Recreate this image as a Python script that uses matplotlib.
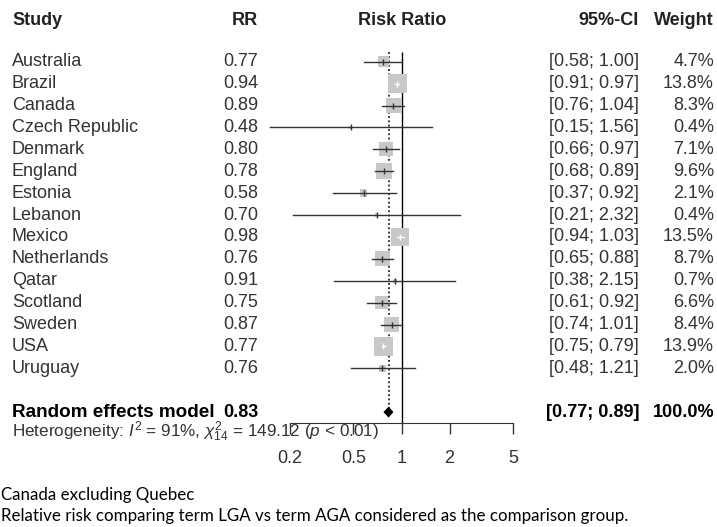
import numpy as np
import matplotlib
matplotlib.use("Agg")
import matplotlib.pyplot as plt
from matplotlib.transforms import blended_transform_factory

# data
studies = ["Australia", "Brazil", "Canada", "Czech Republic", "Denmark", "England",
           "Estonia", "Lebanon", "Mexico", "Netherlands", "Qatar", "Scotland",
           "Sweden", "USA", "Uruguay"]
rr = [0.77, 0.94, 0.89, 0.48, 0.80, 0.78, 0.58, 0.70, 0.98, 0.76, 0.91, 0.75, 0.87, 0.77, 0.76]
ci_lo = [0.58, 0.91, 0.76, 0.15, 0.66, 0.68, 0.37, 0.21, 0.94, 0.65, 0.38, 0.61, 0.74, 0.75, 0.48]
ci_hi = [1.00, 0.97, 1.04, 1.56, 0.97, 0.89, 0.92, 2.32, 1.03, 0.88, 2.15, 0.92, 1.01, 0.79, 1.21]
weight = [4.7, 13.8, 8.3, 0.4, 7.1, 9.6, 2.1, 0.4, 13.5, 8.7, 0.7, 6.6, 8.4, 13.9, 2.0]

pooled_rr = 0.83
pooled_lo = 0.77
pooled_hi = 0.89
pooled_weight = 100.0
het_text = r"Heterogeneity: $I^2$ = 91%, $\chi^2_{14}$ = 149.12 ($p$ < 0.01)"
ticks = [0.2, 0.5, 1, 2, 5]
footnotes = ["Canada excluding Quebec",
             "Relative risk comparing term LGA vs term AGA considered as the comparison group."]

W, H = 717, 527
plt.rcParams['font.family'] = ['Liberation Sans', 'DejaVu Sans']
plt.rcParams['mathtext.fontset'] = 'custom'
plt.rcParams['mathtext.rm'] = 'Liberation Sans'
plt.rcParams['mathtext.it'] = 'Liberation Sans:italic'

fig = plt.figure(figsize=(W / 100, H / 100), dpi=100)

# forest axes: x 0.2..5 spans px 290..513, bottom at px 422.7
ax_bot = 422.7
ax = fig.add_axes([290 / W, 1 - ax_bot / H, (513 - 290) / W, ax_bot / H])
ax.set_xscale("log")
ax.set_xlim(0.2, 5)
row0, step = 61.7, 21.9
ax.set_ylim((ax_bot - row0) / step, -row0 / step)

rows = np.arange(len(studies))
pooled_row = len(studies) + 1
txt = "#333333"
box_col = "#c8c8c8"

ax.vlines(1, -0.46, ax.get_ylim()[0], color="black", lw=1.0, zorder=1)
ax.vlines(pooled_rr, -0.46, pooled_row - 0.2, color="black", lw=1.1,
          linestyles=(0, (1.2, 1.6)), zorder=1)

box_pt = 3.68 * np.sqrt(weight)
ax.scatter(rr, rows, s=box_pt ** 2, marker="s", color=box_col, lw=0, zorder=2, clip_on=False)

fig.canvas.draw()
for i in rows:
    # CI drawn white when it fits inside the box
    x0 = ax.transData.transform((ci_lo[i], 0))[0]
    x1 = ax.transData.transform((ci_hi[i], 0))[0]
    xc = ax.transData.transform((rr[i], 0))[0]
    half = box_pt[i] * 100 / 72 / 2
    c = "white" if (xc - x0 < half and x1 - xc < half) else txt
    ax.plot([ci_lo[i], ci_hi[i]], [i, i], color=c, lw=1.0, zorder=3, clip_on=False)
    ax.plot([rr[i]], [i], marker="|", ms=4, mew=1.0, color=c, zorder=3, clip_on=False)

ax.fill([pooled_lo, pooled_rr, pooled_hi, pooled_rr],
        [pooled_row, pooled_row - 0.25, pooled_row, pooled_row + 0.25],
        color="black", lw=0, zorder=3, clip_on=False)

for s in ["top", "left", "right"]:
    ax.spines[s].set_visible(False)
ax.spines["bottom"].set_bounds(0.2, 5)
ax.spines["bottom"].set_color(txt)
ax.set_yticks([])
ax.set_xticks(ticks)
ax.set_xticklabels([str(t) for t in ticks])
ax.minorticks_off()
ax.tick_params(axis="x", length=8, width=1, color=txt, labelcolor=txt, labelsize=13, pad=12)
ax.patch.set_alpha(0)

# text columns: x in figure pixels, y in row units
tr = blended_transform_factory(fig.transFigure, ax.transData)
def col(xpx, y, s, ha, bold=False, color=txt, size=13):
    ax.text(xpx / W, y, s, transform=tr, ha=ha, va="center", fontsize=size,
            fontweight="bold" if bold else "normal", color=color, clip_on=False)

hdr = (20 - row0) / step
col(12, hdr, "Study", "left", True, "#222222")
col(258, hdr, "RR", "right", True, "#222222")
col(402, hdr, "Risk Ratio", "center", True, "#222222")
col(639, hdr, "95%-CI", "right", True, "#222222")
col(714, hdr, "Weight", "right", True, "#222222")

for i in rows:
    col(12, i, studies[i], "left")
    col(258, i, f"{rr[i]:.2f}", "right")
    col(639, i, f"[{ci_lo[i]:.2f}; {ci_hi[i]:.2f}]", "right")
    col(714, i, f"{weight[i]:.1f}%", "right")

col(12, pooled_row, "Random effects model", "left", True, "black", 13.6)
col(258, pooled_row, f"{pooled_rr:.2f}", "right", True, "black")
col(639, pooled_row, f"[{pooled_lo:.2f}; {pooled_hi:.2f}]", "right", True, "black")
col(714, pooled_row, f"{pooled_weight:.1f}%", "right", True, "black")

fig.text(12 / W, 1 - 432 / H, het_text, ha="left", va="center", fontsize=12.3, color=txt)

for k, line in enumerate(footnotes):
    fig.text(1 / W, 1 - (495 + 21 * k) / H, line, ha="left", va="center",
             fontsize=12.2, color="black", family=["Lato", "DejaVu Sans"])

fig.savefig("out.png", dpi=100)
